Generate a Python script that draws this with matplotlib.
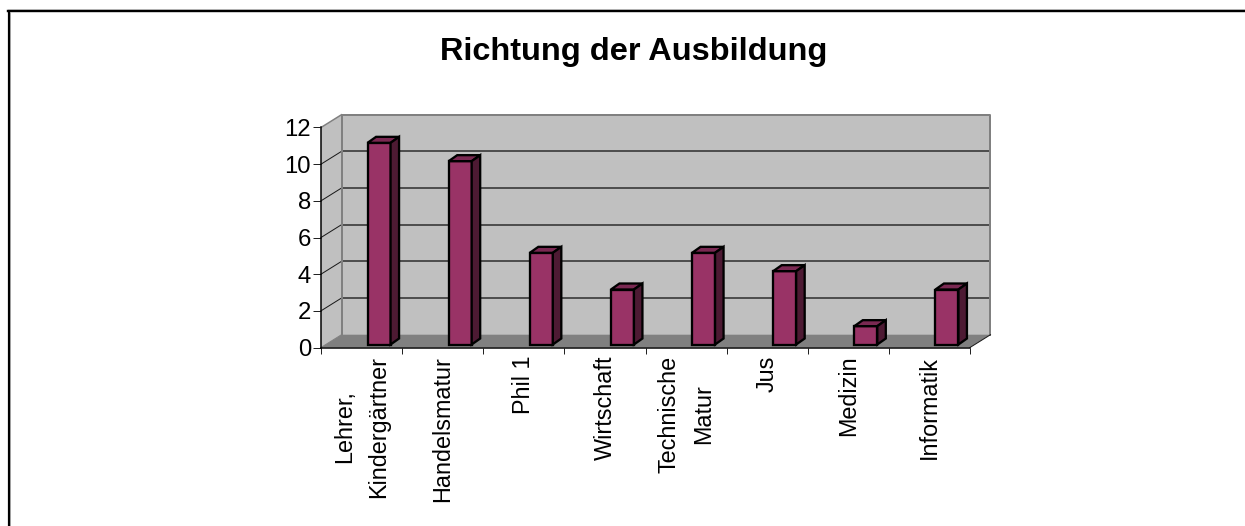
import matplotlib
matplotlib.use("Agg")
import matplotlib.pyplot as plt
from matplotlib.lines import Line2D

categories = ["Lehrer,\nKindergärtner", "Handelsmatur", "Phil 1", "Wirtschaft",
              "Technische\nMatur", "Jus", "Medizin", "Informatik"]
values = [11, 10, 5, 3, 5, 4, 1, 3]
y_ticks = [0, 2, 4, 6, 8, 10, 12]
title = "Richtung der Ausbildung"

plt.rcParams["font.family"] = ["Liberation Sans", "DejaVu Sans"]

W, H = 1245, 526
L, R, B, T = 321, 970, 347.5, 127.5
fig = plt.figure(figsize=(W / 100, H / 100), dpi=100, facecolor="white")
ax = fig.add_axes([L / W, 1 - B / H, (R - L) / W, (B - T) / H])
ax.set_xlim(0, len(categories))
ax.set_ylim(0, 12)
ax.patch.set_visible(False)

px = (R - L) / len(categories)   # pixels per category
py = (B - T) / 12                # pixels per value unit
wall_dx, wall_dy = 20.5 / px, 12.8 / py
n = len(categories)
pt = 0.72                        # one pixel in points

# walls and floor
ax.fill([0, wall_dx, wall_dx, 0], [0, wall_dy, 12 + wall_dy, 12], fc="#C0C0C0", ec="none",
        clip_on=False, zorder=1)
ax.fill([wall_dx, n + wall_dx, n + wall_dx, wall_dx], [wall_dy, wall_dy, 12 + wall_dy, 12 + wall_dy],
        fc="#C0C0C0", ec="none", clip_on=False, zorder=1)
ax.fill([0, n, n + wall_dx, wall_dx], [0, 0, wall_dy, wall_dy], fc="#808080", ec="none",
        clip_on=False, zorder=1)

# gridlines
for v in y_ticks[1:-1]:
    ax.plot([wall_dx, n + wall_dx], [v + wall_dy] * 2, color="#3c3c3c", lw=1.7 * pt,
            clip_on=False, zorder=2)
    ax.plot([0, wall_dx], [v, v + wall_dy], color="#1a1a1a", lw=1.0 * pt, clip_on=False, zorder=2)

# wall outlines
ax.plot([wall_dx, wall_dx, n + wall_dx, n + wall_dx],
        [wall_dy, 12 + wall_dy, 12 + wall_dy, wall_dy], color="#808080", lw=2 * pt,
        clip_on=False, zorder=2)
ax.plot([0, wall_dx], [12, 12 + wall_dy], color="#808080", lw=1.5 * pt, clip_on=False, zorder=2)
ax.plot([n, n + wall_dx], [0, wall_dy], color="#1a1a1a", lw=1.0 * pt, clip_on=False, zorder=2)
ax.plot([0, wall_dx], [0, wall_dy], color="#808080", lw=1.0 * pt, clip_on=False, zorder=2)

# bars
bar_w = 23 / px
shift_x, shift_y = 17.5 / px, 3.0 / py
bar_dx, bar_dy = 8.5 / px, 6.0 / py
edge = dict(ec="black", lw=2.3 * pt, joinstyle="miter", clip_on=False, zorder=3)
for i, v in enumerate(values):
    x0 = i + 0.5 + shift_x - bar_w / 2
    x1 = x0 + bar_w
    y0 = shift_y
    y1 = v + shift_y
    ax.bar(x0, v, width=bar_w, bottom=y0, align="edge", fc="#993366", **edge)
    ax.fill([x0, x1, x1 + bar_dx, x0 + bar_dx], [y1, y1, y1 + bar_dy, y1 + bar_dy],
            fc="#7A2952", **edge)
    ax.fill([x1, x1 + bar_dx, x1 + bar_dx, x1], [y0, y0 + bar_dy, y1 + bar_dy, y1],
            fc="#4D1A33", **edge)

ax.set_xlim(0, n)
ax.set_ylim(0, 12)

# axes
for s in ("top", "right"):
    ax.spines[s].set_visible(False)
for s in ("left", "bottom"):
    ax.spines[s].set_linewidth(1.5 * pt)
    ax.spines[s].set_color("black")
    ax.spines[s].set_zorder(4)

ax.set_yticks(y_ticks)
ax.set_yticklabels([str(v) for v in y_ticks], fontsize=17.2)
ax.tick_params(axis="y", length=8 * pt, width=1 * pt, pad=1.5, color="#222222")

ax.set_xticks(range(n + 1))
ax.set_xticklabels([])
ax.tick_params(axis="x", which="major", length=6 * pt, width=1 * pt, color="#222222")
ax.set_xticks([i + 0.5 for i in range(n)], categories, minor=True, rotation=90, fontsize=16.8,
              linespacing=1.65, ha="center", va="top", multialignment="center")
ax.tick_params(axis="x", which="minor", length=0, pad=6.0)

fig.text(634 / W, 1 - 60 / H, title, fontsize=23.4, fontweight="bold", ha="center", va="baseline")

# chart frame: top and left edges only
fig.add_artist(Line2D([8.5 / W, 8.5 / W], [0, 1 - 10.5 / H], color="black", lw=2.2 * pt))
fig.add_artist(Line2D([7.5 / W, 1], [1 - 11 / H, 1 - 11 / H], color="black", lw=2.4 * pt))
fig.add_artist(Line2D([10 / W, 10 / W], [0, 1 - 12 / H], color="#a0a0a0", lw=1 * pt))
fig.add_artist(Line2D([7.5 / W, 1], [1 - 9.3 / H, 1 - 9.3 / H], color="#b0b0b0", lw=1 * pt))

fig.savefig("out.png", dpi=100)
